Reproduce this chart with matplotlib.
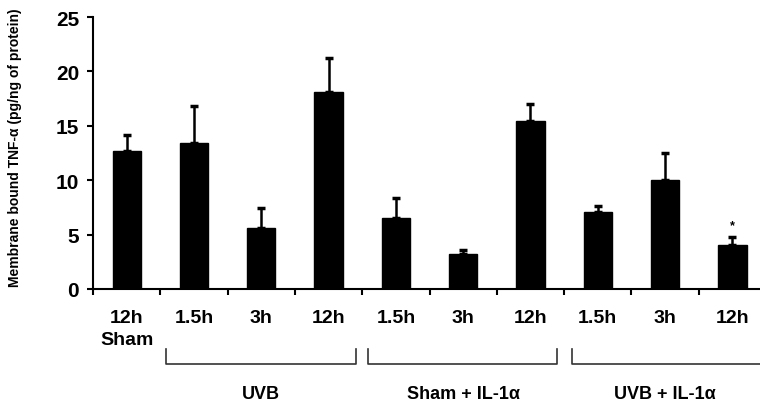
import matplotlib
matplotlib.use("Agg")
import matplotlib.pyplot as plt

# values
times = ["12h", "1.5h", "3h", "12h", "1.5h", "3h", "12h", "1.5h", "3h", "12h"]
means = [12.7, 13.4, 5.6, 18.1, 6.5, 3.2, 15.4, 7.1, 10.0, 4.05]
sem = [1.5, 3.4, 1.8, 3.1, 1.9, 0.4, 1.6, 0.55, 2.5, 0.75]
groups = ["UVB", "Sham + IL-1\u03b1", "UVB + IL-1\u03b1"]
group_spans = [(0.585, 3.41), (3.586, 6.39), (6.617, 9.6)]
group_centers = [2, 5, 8]

plt.rcParams['font.family'] = ['Liberation Sans', 'DejaVu Sans']
plt.rcParams['font.weight'] = 'bold'

W, H = 760, 414
fig = plt.figure(figsize=(W / 100, H / 100), dpi=100)
ax = fig.add_axes([93 / W, 1 - 290 / H, (W - 93) / W, 272 / H])

x = list(range(len(means)))
ax.bar(x, means, width=0.42, color="black", edgecolor="black", zorder=2)
ax.errorbar(x, means, yerr=[[0] * len(sem), sem], fmt="none", ecolor="black",
            elinewidth=1.8, capsize=3, capthick=2.5, zorder=1)
ax.text(9, means[9] + sem[9] + 0.5, "*", ha="center", va="bottom", fontsize=9)

ax.set_xlim(-0.5, 9.41)
ax.set_ylim(0, 25)
ax.set_yticks([0, 5, 10, 15, 20, 25])
ax.set_xticks([i + 0.5 for i in range(-1, 9)])
ax.set_xticklabels([])
ax.tick_params(axis="both", direction="out", length=4, width=1.5, labelsize=15)
ax.tick_params(axis="y", pad=6)
for s in ["top", "right"]:
    ax.spines[s].set_visible(False)
for s in ["left", "bottom"]:
    ax.spines[s].set_linewidth(1.5)

tr = ax.get_xaxis_transform()
for i, t in enumerate(times):
    ax.text(i, -0.103, t, transform=tr, ha="center", va="center", fontsize=14)
ax.text(0, -0.184, "Sham", transform=tr, ha="center", va="center", fontsize=14)

for (a, b), name, c in zip(group_spans, groups, group_centers):
    ax.plot([a, a, b, b], [-0.22, -0.276, -0.276, -0.22], transform=tr,
            color="#333333", lw=1.2, clip_on=False)
    ax.text(c, -0.386, name, transform=tr, ha="center", va="center", fontsize=13)

fig.text(15 / W, 1 - 148 / H, "Membrane bound TNF-\u03b1 (pg/ng of protein)",
         rotation=90, ha="center", va="center", fontsize=10)

fig.savefig("out.png", dpi=100)
